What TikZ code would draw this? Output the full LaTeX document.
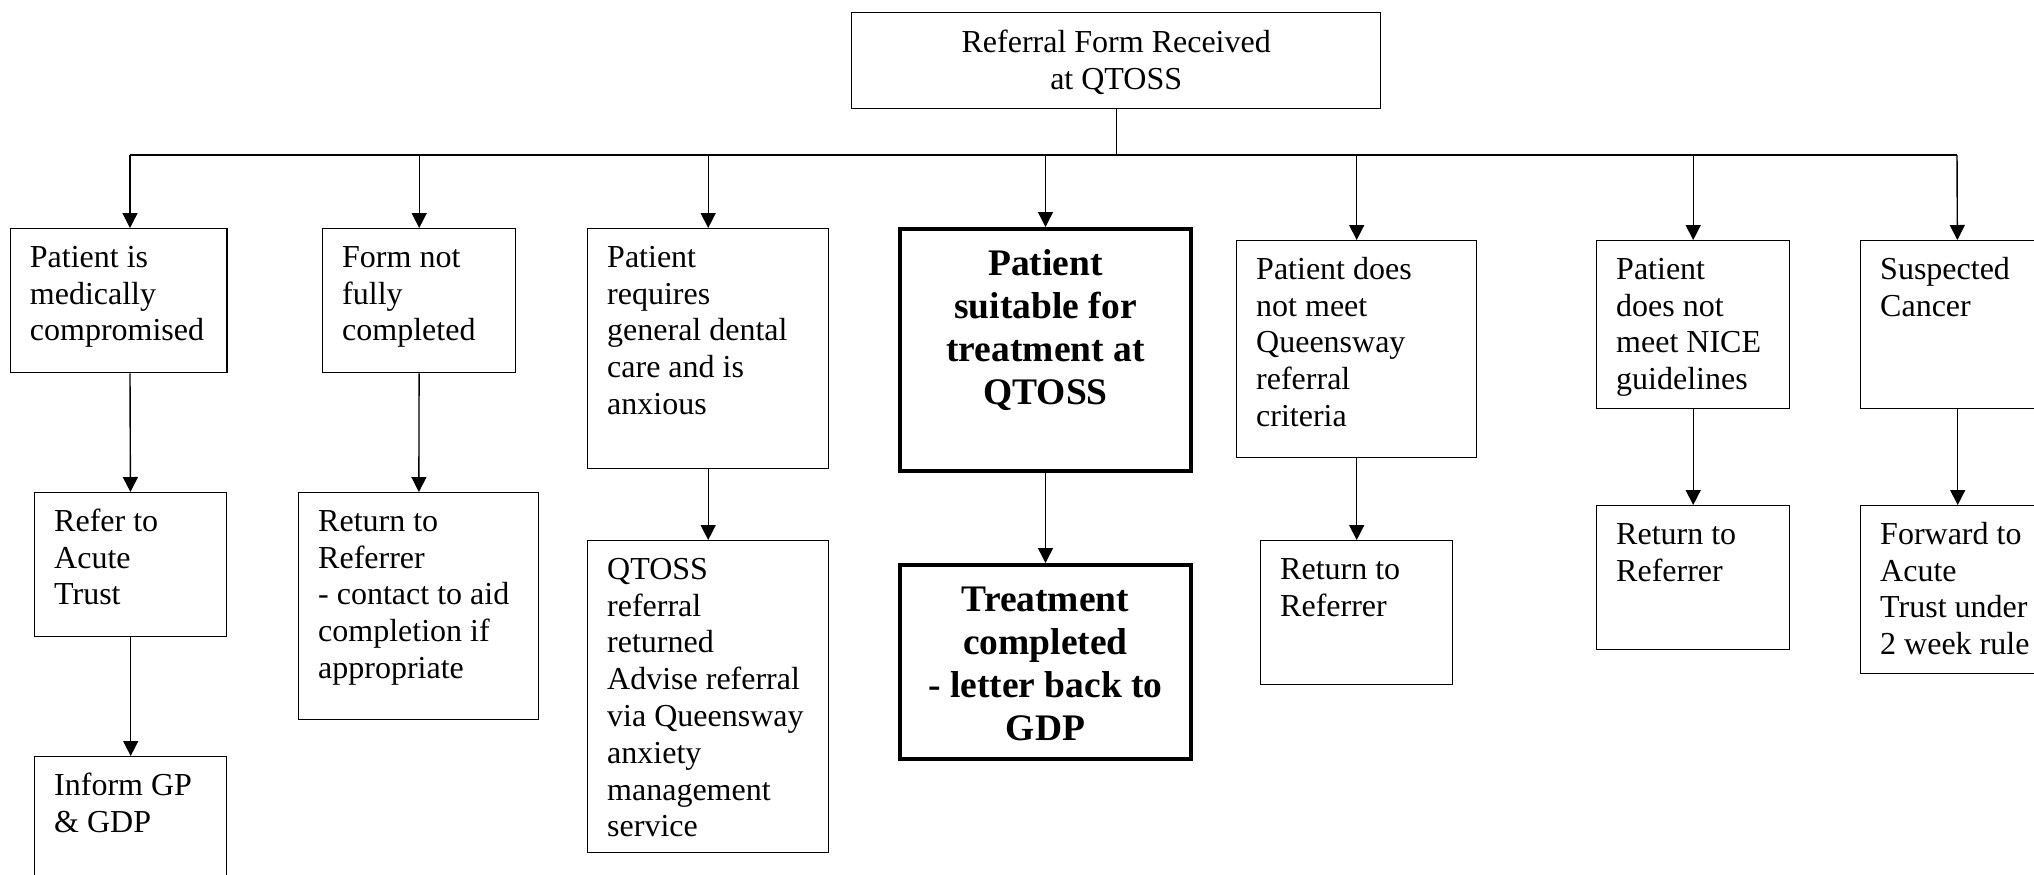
\documentclass[tikz,border=0pt]{standalone}
\usepackage{fontspec}
\setmainfont{Liberation Serif}
\usetikzlibrary{arrows.meta}
\usetikzlibrary{backgrounds}

\begin{document}
\begin{tikzpicture}[
        x=0.5pt, y=-0.5pt,
        background rectangle/.style={fill=white}, show background rectangle, inner frame sep=0pt,
        every node/.style={font=\fontsize{16pt}{18.4pt}\selectfont},
        headbox/.style 2 args={rectangle, draw, line width=0.7pt, anchor=north west, inner xsep=4pt, inner ysep=7.1pt,
            execute at begin node={\begin{minipage}[t][\dimexpr#2pt/2-14.2pt\relax][t]{\dimexpr#1pt/2-8pt\relax}\centering\strut},
            execute at end node={\end{minipage}}},
        stagebox/.style 2 args={rectangle, draw, line width=0.7pt, anchor=north west, inner xsep=9.75pt, inner ysep=6.4pt,
            execute at begin node={\begin{minipage}[t][\dimexpr#2pt/2-12.8pt\relax][t]{\dimexpr#1pt/2-19.5pt\relax}\raggedright\strut},
            execute at end node={\end{minipage}}},
        keybox/.style 2 args={rectangle, draw, line width=2pt, anchor=north west, inner xsep=4pt, inner ysep=8.4pt,
            font=\fontsize{18.75pt}{21.4pt}\selectfont\bfseries,
            execute at begin node={\begin{minipage}[t][\dimexpr#2pt/2-16.8pt\relax][t]{\dimexpr#1pt/2-8pt\relax}\centering\strut},
            execute at end node={\end{minipage}}},
        normalline/.style={line width=0.7pt},
        flowline/.style={-{Triangle[length=7.5pt, width=7.5pt]}, line width=0.7pt},
    ]
    \useasboundingbox (0,0) rectangle (2034,874);
    \clip (0,0) rectangle (2034,874);

    \node[headbox={529}{96}] (head) at (851, 11.7) {Referral Form Received\\at QTOSS};

    % ------------ first row
    \node[stagebox={216.6}{144}] (medcomp) at (9.7, 228) {Patient is\\medically\\compromised};
    \node[stagebox={193}{144}] (formnot) at (322, 228) {Form not\\fully\\completed};
    \node[stagebox={241}{240}] (anxious) at (587, 228) {Patient\\requires\\general dental\\care and is\\anxious};
    \node[keybox={291}{242}] (suitable) at (898, 227) {Patient\\suitable for\\treatment at\\QTOSS};
    \node[stagebox={240}{217}] (queensway) at (1236, 240) {Patient does\\not meet\\Queensway\\referral\\criteria};
    \node[stagebox={193}{168}] (nice) at (1596, 240) {Patient\\does not\\meet NICE\\guidelines};
    \node[stagebox={194}{168}] (cancer) at (1860, 240) {Suspected\\Cancer};

    % ------------ second row
    \node[stagebox={192}{144}] (refacute) at (34, 492) {Refer to\\Acute\\Trust};
    \node[stagebox={240}{227}] (returnform) at (298, 492) {Return to\\Referrer\\- contact to aid\\completion if\\appropriate};
    \node[stagebox={241}{312}] (advise) at (587, 540) {QTOSS\\referral\\returned\\Advise referral\\via Queensway\\anxiety\\management\\service};
    \node[keybox={291}{194}] (treated) at (898, 563) {Treatment\\completed\\- letter back to\\GDP};
    \node[stagebox={192}{144}] (returnqw) at (1260, 540) {Return to\\Referrer};
    \node[stagebox={193}{144}] (returnnice) at (1596, 505) {Return to\\Referrer};
    \node[stagebox={194}{168}] (forward) at (1860, 505) {Forward to\\Acute\\Trust under\\2 week rule};

    % ------------ third row
    \node[stagebox={192}{144}] (informgp) at (34, 756) {Inform GP\\\& GDP};

    % ------------ bus
    \coordinate (busleft) at (130, 155);
    \coordinate (busright) at (1957, 155);
    \draw [normalline] (head.south) -- (head.south |- busleft);
    \draw [normalline] (busleft) -- (busright);

    \draw [flowline] (busleft) -- (busleft |- medcomp.north);
    \draw [flowline] (formnot.north |- busleft) -- (formnot);
    \draw [flowline] (anxious.north |- busleft) -- (anxious);
    \draw [flowline] (suitable.north |- busleft) -- (suitable);
    \draw [flowline] (queensway.north |- busleft) -- (queensway);
    \draw [flowline] (nice.north |- busleft) -- (nice);
    \draw [flowline] (busright) -- (cancer);

    % ------------ down the columns
    \draw [flowline] (busleft |- medcomp.south) -- (refacute);
    \draw [flowline] (refacute) -- (informgp);
    \draw [flowline] (formnot) -- (returnform);
    \draw [flowline] (anxious) -- (advise);
    \draw [flowline] (suitable) -- (treated);
    \draw [flowline] (queensway) -- (returnqw);
    \draw [flowline] (nice) -- (returnnice);
    \draw [flowline] (cancer) -- (forward);
\end{tikzpicture}
\end{document}
